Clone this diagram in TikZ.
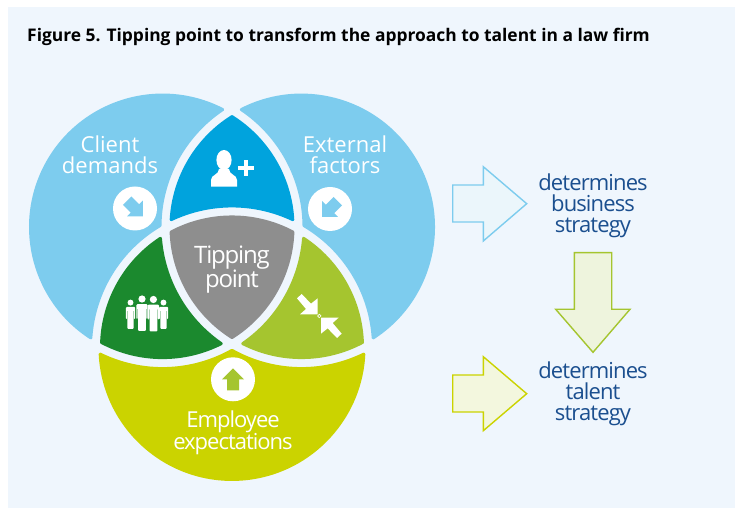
\documentclass[tikz,border=0pt]{standalone}
\usepackage{fontspec}
\setmainfont{Open Sans}
\usetikzlibrary{positioning}
\definecolor{panel}{RGB}{239, 246, 253}
\definecolor{skyblue}{RGB}{125, 204, 238}
\definecolor{midblue}{RGB}{0, 163, 221}
\definecolor{leaf}{RGB}{27, 137, 46}
\definecolor{olive}{RGB}{165, 197, 47}
\definecolor{lime}{RGB}{203, 211, 0}
\definecolor{stone}{RGB}{142, 142, 142}
\definecolor{navy}{RGB}{27, 79, 143}
\definecolor{skyfill}{RGB}{235, 246, 251}
\definecolor{olivefill}{RGB}{238, 244, 221}
\definecolor{limefill}{RGB}{243, 247, 222}
\newcommand{\outerpath}{(-9.345,157.62) arc (62.89:237.11:132) arc (176.14:120.59:141.5) arc (179.42:123.86:141.5) -- cycle}
\newcommand{\pairpath}{(0,150.575) arc (57.82:3.25:130.5) arc (64.55:115.45:141.5) arc (176.75:122.18:130.5) -- cycle}
\tikzset{
  piece/.style = {fill = #1, draw = #1, line width = 3pt, line join = round},
  wedgelabel/.style = {text = white, font = \fontsize{22}{21}\selectfont, align = center, inner sep = 0pt},
  tightlabel/.style = {text = white, font = \fontsize{22}{21}\selectfont\addfontfeature{LetterSpace=-4.5}, align = center, inner sep = 0pt},
  middlelabel/.style = {text = white, font = \fontsize{24}{24}\selectfont\addfontfeature{LetterSpace=-5}, align = center, inner sep = 0pt},
  outcome/.style = {text = navy, font = \fontsize{22}{21}\selectfont\addfontfeature{LetterSpace=-4}, align = center, inner sep = 0pt},
  badge/.style = {circle, fill = white, minimum size = 44pt, inner sep = 0pt},
  blockarrow/.pic = {\fill[#1] (0,11) -- (11,0) -- (6,0) -- (6,-11) -- (-6,-11) -- (-6,0) -- (-11,0) -- cycle;},
  teamfig/.pic = {
    \fill[white] (0,6) circle (3.6);
    \fill[white, rounded corners = 1pt] (-5.6,0.8) -- (5.6,0.8) -- (5.6,-14) -- (4.4,-14) -- (4.4,-3) -- (3.9,-3) -- (3.9,-26) -- (-3.9,-26) -- (-3.9,-3) -- (-4.4,-3) -- (-4.4,-14) -- (-5.6,-14) -- cycle;
  }
}
\begin{document}
\begin{tikzpicture}[x = 1pt, y = 1pt]
\useasboundingbox (0,0) rectangle (735,508);
\fill[panel] (8,0) rectangle (735,501);
\node[anchor = base west, inner sep = 0pt, font = \fontsize{17.4}{20}\selectfont\bfseries] (title) at (27,466) {Figure 5. Tipping point to transform the approach to talent in a law firm};
\coordinate (O) at (232,240.8);
% the three rims, then the pairs, then the middle
\begin{scope}[shift = {(O)}]
\foreach \ang/\col in {0/skyblue, 120/lime, -120/skyblue} {
  \draw[piece = \col, rotate = \ang] \outerpath;
}
\foreach \ang/\col in {0/midblue, 120/leaf, -120/olive} {
  \draw[piece = \col, rotate = \ang] \pairpath;
}
\draw[piece = stone] (0,-70.33) arc (-57.82:-2.18:130.5) arc (62.18:117.82:130.5) arc (182.18:237.82:130.5) -- cycle;
\end{scope}
\node[wedgelabel] (client) at (110,353.2) {Client\\demands};
\node[wedgelabel] (external) at (345,353.2) {External\\factors};
\node[middlelabel] (tipping) at (232,238.5) {Tipping\\point};
\node[tightlabel] (employee) at (233,75) {Employee\\expectations};
\node[badge] (clientbadge) at (135,299.5) {};
\node[badge] (externalbadge) at (330,299) {};
\node[badge] (employeebadge) at (233,128.7) {};
\pic[rotate = -135] at (clientbadge) {blockarrow = skyblue};
\pic[rotate = 135] at (externalbadge) {blockarrow = skyblue};
\pic at (employeebadge) {blockarrow = olive};
% person with a plus
\fill[white] (224,348) ellipse (7.6 and 10);
\fill[white] (211,321.3) -- (211,328) .. controls (211,333.5) and (219,333) .. (219,339) -- (229,339) .. controls (229,333) and (237,333.5) .. (237,328) -- (237,321.3) -- cycle;
\fill[white] (237.5,337.8) rectangle (254,341.6);
\fill[white] (243.8,331.5) rectangle (247.6,348);
% team
\pic[scale = 0.82] at (130.5,200.5) {teamfig};
\pic[scale = 0.82] at (163.5,200.5) {teamfig};
\pic at (142,203) {teamfig};
\pic at (153.4,202.5) {teamfig};
% arrows meeting at a ring
\begin{scope}[shift = {(285,223)}, xscale = 0.3333, yscale = -0.3333]
\fill[white] (36,40) -- (50,27) -- (78,56) -- (98,40) -- (98,88) -- (45,88) -- (63,72) -- cycle;
\fill[white] (170,146) -- (156,159) -- (128,130) -- (108,146) -- (108,98) -- (161,98) -- (143,114) -- cycle;
\draw[white, line width = 0.7pt] (103,93) circle (5);
\end{scope}
% right-hand column
\draw[skyblue, fill = skyfill, line width = 1.4pt] (452.7,323) -- (483.3,323) -- (483.3,341.3) -- (526.7,304.3) -- (483.3,267) -- (483.3,286) -- (452.7,286) -- cycle;
\draw[olive, fill = olivefill, line width = 1.4pt] (574.3,255.3) -- (611.7,255.3) -- (611.7,198.7) -- (630,198.7) -- (593,155.7) -- (555.7,198.7) -- (574.3,198.7) -- cycle;
\draw[lime, fill = limefill, line width = 1.4pt] (452.7,133) -- (483.3,133) -- (483.3,151.3) -- (526.7,114.3) -- (483.3,77.3) -- (483.3,96) -- (452.7,96) -- cycle;
\node[outcome] (business) at (593,302.5) {determines\\business\\strategy};
\node[outcome] (talent) at (593,114.5) {determines\\talent\\strategy};
\end{tikzpicture}
\end{document}
